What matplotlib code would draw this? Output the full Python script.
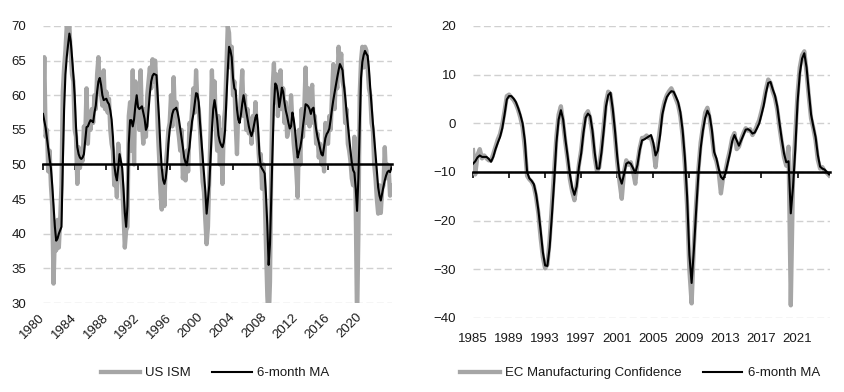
import numpy as np
import matplotlib.pyplot as plt

# US ISM, bi-monthly readings (Jan, Mar, May, Jul, Sep, Nov), from Jan 1980
us_ism = [
    57.0, 65.5, 54.0, 55.0, 49.0, 52.0,
    47.0, 44.0, 32.8, 40.0, 37.6, 42.0,
    38.0, 42.0, 47.0, 60.5, 64.0, 66.5,
    70.0, 69.5, 70.0, 66.0, 63.0, 62.0,
    55.0, 54.0, 47.2, 52.5, 49.5, 52.0,
    50.5, 55.5, 54.0, 61.0, 53.0, 57.5,
    55.0, 58.0, 56.0, 60.0, 58.0, 63.0,
    65.5, 61.0, 60.0, 58.5, 63.6, 58.0,
    60.5, 57.5, 59.5, 55.0, 53.0, 52.0,
    47.0, 49.0, 45.3, 53.0, 51.0, 49.5,
    47.0, 43.0, 38.0, 40.5, 41.0, 57.0,
    59.0, 52.0, 63.6, 50.0, 62.0, 57.0,
    60.0, 55.0, 63.6, 56.0, 53.0, 58.0,
    54.0, 60.0, 62.0, 64.0, 61.0, 65.2,
    62.0, 65.0, 61.0, 55.0, 51.0, 46.0,
    43.5, 49.0, 44.0, 50.0, 52.0, 55.0,
    56.0, 60.0, 55.5, 62.6, 57.0, 59.0,
    55.5, 54.0, 52.0, 55.0, 48.0, 50.5,
    47.7, 52.0, 49.0, 56.0, 55.0, 58.0,
    61.0, 57.5, 63.6, 59.0, 58.0, 55.0,
    51.0, 47.5, 46.0, 42.0, 38.5, 41.0,
    48.0, 55.0, 63.6, 57.0, 62.0, 55.0,
    52.0, 57.0, 50.0, 55.0, 47.2, 56.0,
    58.0, 64.0, 70.0, 69.0, 64.0, 67.0,
    60.0, 62.0, 56.0, 51.5, 58.0, 57.0,
    60.0, 63.6, 57.0, 60.0, 55.0, 58.0,
    54.5, 56.5, 53.0, 57.0, 55.0, 59.0,
    55.0, 53.0, 50.0, 51.5, 46.5, 50.0,
    46.0, 38.0, 31.0, 27.0, 33.0, 50.0,
    61.0, 64.6, 59.0, 63.0, 57.0, 60.0,
    63.6, 58.0, 61.0, 56.0, 59.0, 54.0,
    55.0, 57.0, 60.0, 56.0, 53.0, 51.0,
    49.0, 45.3, 55.0, 50.0, 58.0, 54.0,
    58.0, 64.0, 56.0, 61.0, 55.5, 60.0,
    61.5, 56.0, 57.0, 53.0, 54.5, 51.0,
    53.0, 50.0, 52.0, 49.0, 56.0, 54.0,
    53.0, 57.0, 55.0, 60.0, 64.5, 58.0,
    63.0, 61.0, 67.0, 64.0, 66.0, 62.0,
    61.0, 56.0, 58.0, 53.0, 52.0, 50.5,
    48.0, 47.0, 54.0, 44.0, 27.0, 40.0,
    60.0, 65.0, 67.0, 64.0, 67.0, 66.5,
    64.0, 61.0, 60.0, 56.0, 55.0, 50.0,
    48.0, 45.0, 42.9, 47.0, 43.0, 46.5,
    47.0, 52.5, 48.0, 50.0, 49.5, 45.5,
    47.0,
]

us_ism_ma = [
    57.3, 56.3, 55.3, 53.8, 52.3, 50.8,
    49.5, 47.0, 44.0, 41.0, 39.0, 39.3,
    40.0, 40.5, 41.0, 50.0, 58.0, 63.0,
    65.5, 67.3, 68.9, 67.8, 65.5, 63.0,
    60.0, 55.5, 52.5, 51.5, 51.0, 50.8,
    51.0, 51.5, 53.5, 55.4, 55.5, 56.0,
    56.4, 56.3, 56.1, 57.5, 58.5, 60.5,
    62.0, 62.5, 61.5, 60.0, 59.3, 59.4,
    59.5, 59.0, 58.7, 57.8, 56.5, 54.0,
    50.0, 48.5, 47.7, 49.5, 51.5, 50.5,
    49.5, 46.5, 43.0, 41.0, 44.0, 53.0,
    56.4, 56.4, 55.5, 56.5, 58.5, 60.0,
    58.3, 58.0, 58.2, 58.4, 57.5, 56.6,
    55.0, 55.5, 58.0, 60.3, 62.0, 62.8,
    63.1, 63.0, 62.9, 59.8, 56.5, 52.5,
    49.5, 47.8, 47.2, 48.0, 49.8, 53.0,
    55.0, 56.2, 57.3, 57.9, 58.0, 58.2,
    57.5, 56.5, 55.2, 54.0, 52.5, 51.0,
    50.3, 49.9, 51.3, 52.5, 54.5, 56.3,
    57.3, 58.8, 60.3, 60.2, 59.0, 56.0,
    53.5, 51.0, 48.7, 46.2, 42.9, 45.0,
    47.0, 51.0, 55.0, 58.0, 59.3, 58.0,
    56.4, 54.2, 53.3, 52.8, 52.5, 53.2,
    55.0, 59.5, 63.5, 67.0, 66.5, 65.5,
    62.5, 61.0, 60.7, 58.0, 56.5, 56.0,
    57.2, 58.8, 60.0, 58.8, 57.7, 56.6,
    55.5, 54.7, 54.1, 54.8, 55.8, 56.8,
    57.2, 55.3, 51.5, 49.8, 49.4, 49.1,
    48.7, 45.5, 41.2, 35.5, 38.5, 45.5,
    52.3, 58.5, 61.7, 61.4, 60.3, 58.3,
    59.5, 61.1, 60.5, 59.0, 57.8, 57.0,
    56.0, 55.2, 55.5, 57.5, 56.5, 55.0,
    52.8, 51.0, 51.8, 52.5, 53.7, 55.5,
    57.0, 58.7, 58.6, 58.4, 58.0, 57.3,
    58.0, 58.2, 56.5, 55.1, 54.0, 53.2,
    52.3, 51.5, 51.3, 52.5, 53.8, 54.4,
    54.7, 55.2, 56.5, 58.0, 59.3, 60.4,
    61.5, 62.6, 63.6, 64.5, 64.1, 63.6,
    61.5, 59.8, 57.7, 55.8, 53.9, 52.0,
    50.3, 49.2, 48.8, 46.5, 43.3, 48.0,
    55.5, 62.5, 64.8, 65.8, 66.4, 66.0,
    65.7, 63.8, 61.0, 58.5, 56.0, 53.8,
    51.5, 49.0, 46.7, 45.5, 44.8, 45.8,
    46.8, 47.7, 48.4, 48.9, 49.1, 48.9,
    49.5,
]

# EC Manufacturing Confidence, quarterly readings from Q1 1985
ec_conf = [
    -5.5, -10.5, -6.5, -5.3,
    -7.2, -6.6, -7.2, -7.6,
    -7.6, -6.3, -4.8, -3.3,
    -2.2, -0.2, 2.5, 5.6,
    5.9, 5.3, 4.8, 4.0,
    2.8, 1.2, -0.8, -5.0,
    -10.8, -11.5, -12.0, -12.9,
    -15.2, -18.5, -23.5, -27.5,
    -29.8, -29.0, -24.0, -17.0,
    -10.0, -2.8, 1.8, 3.5,
    0.0, -4.0, -7.5, -11.5,
    -14.0, -15.8, -12.5, -8.5,
    -5.5, -1.2, 1.8, 2.5,
    1.0, -2.2, -7.0, -9.8,
    -9.0, -5.2, -0.5, 4.3,
    6.5, 6.0, 2.2, -2.5,
    -8.0, -12.0, -15.5, -10.0,
    -7.6, -8.5, -8.0, -9.8,
    -12.4, -8.0, -5.0, -3.0,
    -3.0, -2.5, -3.0, -3.0,
    -5.0, -9.0, -4.5, -1.0,
    2.5, 4.5, 5.8, 6.6,
    7.2, 6.2, 5.0, 3.8,
    1.5, -2.5, -8.5, -17.0,
    -30.0, -37.0, -25.0, -16.5,
    -9.5, -4.0, -0.8, 2.2,
    3.2, 1.0, -2.5, -6.5,
    -7.8, -10.0, -14.4, -11.0,
    -9.8, -7.5, -5.5, -3.0,
    -2.0, -5.3, -4.8, -3.2,
    -2.0, -1.0, -1.5, -1.2,
    -2.4, -1.6, -0.5, 0.7,
    2.5, 4.5, 7.0, 9.0,
    8.3, 6.5, 5.2, 2.8,
    -0.8, -4.0, -7.0, -8.7,
    -4.8, -37.4, -11.0, -2.5,
    6.0, 11.5, 14.0, 14.8,
    10.5, 5.5, 1.0, -1.0,
    -3.5, -7.5, -9.3, -9.0,
    -9.8, -10.2, -10.7,
]

ec_conf_ma = [
    -8.3, -7.8, -7.0, -6.6,
    -6.9, -6.9, -6.9, -7.3,
    -7.9, -6.9, -5.3, -4.0,
    -2.8, -1.0, 1.8, 4.9,
    5.6, 5.6, 5.1, 4.4,
    3.2, 1.8, 0.0, -3.5,
    -10.0, -11.3, -11.8, -12.5,
    -14.5, -17.8, -22.0, -26.5,
    -29.2, -29.3, -25.5, -19.0,
    -12.0, -4.0, 0.8, 2.7,
    0.8, -3.3, -6.8, -10.5,
    -13.2, -14.7, -13.0, -9.0,
    -6.2, -2.0, 1.2, 2.0,
    1.5, -1.5, -6.0, -9.3,
    -9.3, -6.0, -1.5, 3.5,
    5.8, 6.3, 3.0, -1.5,
    -6.8, -11.0, -12.4, -10.5,
    -8.3, -8.0, -8.3, -9.2,
    -10.2, -8.5, -5.5, -3.5,
    -3.3, -3.0, -2.7, -2.4,
    -4.0, -6.6, -5.6, -2.5,
    1.8, 3.9, 5.4, 6.1,
    6.6, 6.5, 5.5, 4.4,
    2.3, -1.4, -7.0, -15.0,
    -27.0, -32.8, -26.0, -18.0,
    -10.5, -5.2, -1.5, 1.1,
    2.6, 1.6, -1.4, -5.9,
    -7.2, -9.3, -11.0, -11.5,
    -10.3, -8.3, -6.2, -3.7,
    -2.4, -3.5, -4.6, -3.5,
    -2.4, -1.3, -1.2, -1.5,
    -2.1, -1.9, -1.0, 0.0,
    1.8, 3.7, 6.3, 8.3,
    8.5, 7.0, 5.7, 3.5,
    0.0, -3.3, -6.2, -8.0,
    -7.8, -18.5, -13.0, -5.3,
    4.3, 10.2, 13.3, 14.4,
    11.5, 6.5, 1.8, -0.6,
    -2.8, -6.5, -8.9, -9.3,
    -9.5, -10.0, -10.5,
]

ism_ticks = list(range(1980, 2025, 4))
ism_labels = [str(y) if y <= 2020 else '' for y in ism_ticks]
ec_ticks = list(range(1985, 2022, 4))
ec_labels = [str(y) for y in ec_ticks]

ism_x = 1980 + np.arange(len(us_ism)) / 6
ec_x = 1985 + np.arange(len(ec_conf)) / 4

plt.rcParams['font.family'] = ['Liberation Sans', 'DejaVu Sans']
plt.rcParams['font.size'] = 9.5
plt.rcParams['text.color'] = '#1a1a1a'
plt.rcParams['xtick.color'] = '#1a1a1a'
plt.rcParams['ytick.color'] = '#1a1a1a'

GRAY = '#a6a6a6'
GRID = '#d0d0d0'

fig = plt.figure(figsize=(8.44, 3.92), dpi=100)
ax1 = fig.add_axes([43 / 844, 1 - 303 / 392, 349 / 844, 277 / 392])
ax2 = fig.add_axes([473 / 844, 1 - 318 / 392, 357 / 844, 292 / 392])


def style_axis(ax, base, ticks, labels, rotate):
    for s in ['left', 'right', 'top']:
        ax.spines[s].set_visible(False)
    ax.spines['bottom'].set_position(('data', base))
    ax.spines['bottom'].set_linewidth(1.8)
    ax.spines['bottom'].set_zorder(5)
    ax.set_xticks(ticks)
    ax.tick_params(axis='x', direction='out', length=4, width=1.3, labelbottom=False)
    ax.tick_params(axis='y', length=0, pad=12)
    ax.grid(axis='y', color=GRID, linestyle=(0, (5, 2.5)), linewidth=1)
    ax.set_axisbelow(True)
    sec = ax.secondary_xaxis('bottom')
    sec.set_xticks(ticks)
    sec.spines['bottom'].set_visible(False)
    if rotate:
        sec.set_xticklabels(labels, rotation=45, ha='right', va='center', rotation_mode='anchor')
        sec.tick_params(length=0, pad=9)
    else:
        sec.set_xticklabels(labels)
        sec.tick_params(length=0, pad=11)


# left: US ISM
ax1.plot(ism_x, us_ism, color=GRAY, lw=3.1, label='US ISM', solid_joinstyle='round')
ax1.plot(ism_x, us_ism_ma, color='black', lw=1.5, label='6-month MA')
ax1.set_xlim(1980, 2024.08)
ax1.set_ylim(30, 70)
ax1.set_yticks(range(30, 71, 5))
style_axis(ax1, 50, ism_ticks, ism_labels, True)
ax1.legend(loc='center', bbox_to_anchor=(215 / 844, 1 - 373 / 392), bbox_transform=fig.transFigure,
           ncol=2, frameon=False, handlelength=3.0, handletextpad=0.4, columnspacing=1.6)

# right: EC Manufacturing Confidence
ax2.plot(ec_x, ec_conf, color=GRAY, lw=3.1, label='EC Manufacturing Confidence', solid_joinstyle='round')
ax2.plot(ec_x, ec_conf_ma, color='black', lw=1.5, label='6-month MA')
ax2.set_xlim(1985, 2024.6)
ax2.set_ylim(-40, 20)
ax2.set_yticks(range(-40, 21, 10))
style_axis(ax2, -10, ec_ticks, ec_labels, False)
ax2.legend(loc='center', bbox_to_anchor=(640 / 844, 1 - 373 / 392), bbox_transform=fig.transFigure,
           ncol=2, frameon=False, handlelength=3.0, handletextpad=0.4, columnspacing=1.6)

fig.savefig('out.png', dpi=100)
